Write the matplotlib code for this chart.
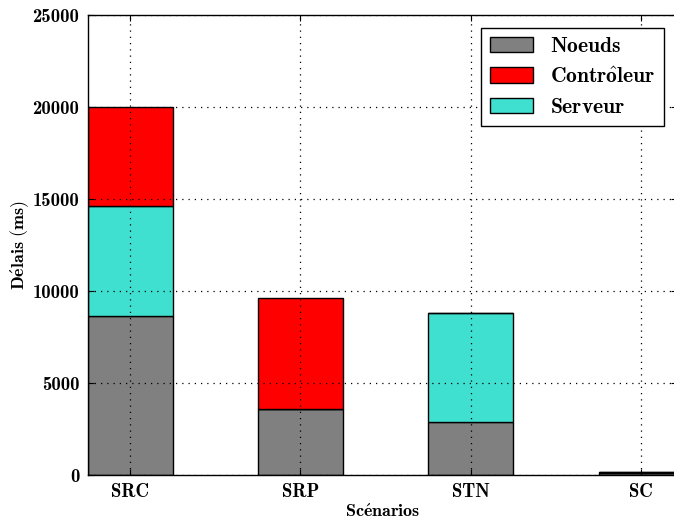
import matplotlib
matplotlib.use("Agg")
import matplotlib.pyplot as plt
from matplotlib.patches import Patch
import numpy as np

scenarios = ["SRC", "SRP", "STN", "SC"]
noeuds = [8650, 3570, 2900, 120]
serveur = [5950, 0, 5920, 30]
controleur = [5400, 6050, 0, 30]

series_names = ["Noeuds", "Contrôleur", "Serveur"]
series_tex = [r"$\mathbf{Noeuds}$", r"$\mathbf{Contr\hat{o}leur}$", r"$\mathbf{Serveur}$"]
colors = {"Noeuds": "#808080", "Contrôleur": "#ff0000", "Serveur": "#40e0d0"}

plt.rcParams["font.family"] = ["cmb10", "DejaVu Serif"]
plt.rcParams["font.weight"] = "bold"
plt.rcParams["mathtext.fontset"] = "cm"
plt.rcParams["axes.unicode_minus"] = False

W, H = 674, 522
fig = plt.figure(figsize=(W / 100, H / 100), dpi=100)
left, right, top, bottom = 87.5, 677, 15, 475
ax = fig.add_axes([left / W, 1 - bottom / H, (right - left) / W, (bottom - top) / H])

x = np.arange(len(scenarios))
width = 0.5
n = np.array(noeuds)
s = np.array(serveur)
c = np.array(controleur)
ax.bar(x, n, width, color=colors["Noeuds"], edgecolor="black", linewidth=1.0, zorder=1)
ax.bar(x, s, width, bottom=n, color=colors["Serveur"], edgecolor="black", linewidth=1.0, zorder=1)
ax.bar(x, c, width, bottom=n + s, color=colors["Contrôleur"], edgecolor="black", linewidth=1.0, zorder=1)

ax.set_xlim(-0.25, 3.21)
ax.set_ylim(0, 25000)
ax.set_yticks(np.arange(0, 25001, 5000))
ax.set_xticks(x)
ax.set_xticklabels(scenarios)
ax.grid(True, linestyle=(0, (1, 4)), color="black", linewidth=0.9, zorder=3)
ax.set_axisbelow(False)
ax.tick_params(direction="in", top=True, right=True, length=4, labelsize=13.5, pad=6)
for sp in ax.spines.values():
    sp.set_linewidth(1.0)

ax.set_ylabel(r"$\mathbf{D\acute{e}lais\ (ms)}$", fontsize=13, labelpad=1)
ax.set_xlabel(r"$\mathbf{Sc\acute{e}narios}$", fontsize=13, labelpad=1)

handles = [Patch(facecolor=colors[k], edgecolor="black", linewidth=1.0) for k in series_names]
leg = ax.legend(handles, series_tex, loc="upper right", fontsize=15.5, fancybox=False,
                framealpha=1, edgecolor="black", borderaxespad=0.6, handlelength=2.0,
                handleheight=0.75, labelspacing=0.5, handletextpad=0.8)
leg.get_frame().set_linewidth(1.0)

fig.savefig("out.png", dpi=100)
